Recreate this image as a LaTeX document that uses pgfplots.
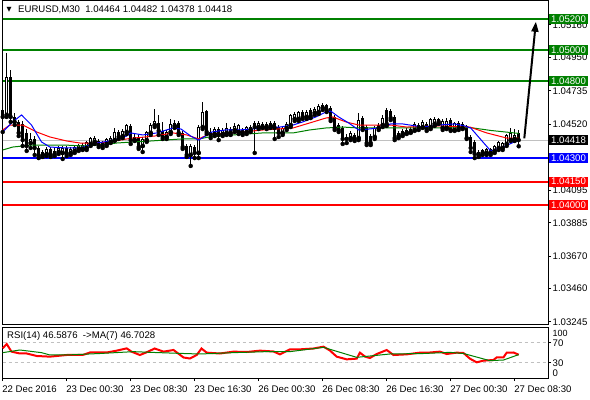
\documentclass[border=0pt]{standalone}
\usepackage{pgfplots}
\pgfplotsset{compat=1.18}
\usepackage{pgfplotstable}
\usepackage{fontspec}
\setmainfont{Liberation Sans}
\newfontfamily\symfont{DejaVu Sans}
\usetikzlibrary{arrows.meta}

\definecolor{mtgreen}{RGB}{0,128,0}
\definecolor{mtblue}{RGB}{0,0,255}
\definecolor{mtred}{RGB}{255,0,0}
\definecolor{mtgray}{RGB}{192,192,192}

% EURUSD M30 candles: index, open, high, low, close
\pgfplotstableread{
i o h l c
0 1.04612 1.04644 1.04470 1.04567
2 1.04825 1.04870 1.04535 1.04567
3 1.04567 1.04593 1.04515 1.04535
4 1.04535 1.04547 1.04444 1.04464
5 1.04522 1.04541 1.04380 1.04418
6 1.04464 1.04489 1.04348 1.04380
8 1.04425 1.04444 1.04322 1.04367
9 1.04367 1.04380 1.04302 1.04315
12 1.04361 1.04373 1.04309 1.04322
13 1.04348 1.04367 1.04315 1.04328
16 1.04367 1.04380 1.04315 1.04328
24 1.04412 1.04425 1.04373 1.04386
25 1.04399 1.04412 1.04367 1.04380
29 1.04470 1.04483 1.04425 1.04438
32 1.04509 1.04522 1.04393 1.04418
34 1.04438 1.04451 1.04361 1.04373
39 1.04528 1.04580 1.04451 1.04477
40 1.04477 1.04535 1.04425 1.04438
44 1.04528 1.04541 1.04451 1.04464
45 1.04464 1.04477 1.04361 1.04373
46 1.04380 1.04393 1.04309 1.04322
48 1.04373 1.04386 1.04302 1.04335
51 1.04605 1.04612 1.04457 1.04470
52 1.04470 1.04496 1.04431 1.04451
54 1.04489 1.04502 1.04418 1.04451
57 1.04489 1.04502 1.04451 1.04464
60 1.04483 1.04496 1.04451 1.04464
63 1.04528 1.04541 1.04335 1.04502
66 1.04522 1.04535 1.04489 1.04502
68 1.04528 1.04541 1.04425 1.04496
69 1.04502 1.04515 1.04438 1.04464
75 1.04599 1.04612 1.04554 1.04567
77 1.04612 1.04625 1.04560 1.04573
81 1.04644 1.04651 1.04599 1.04612
82 1.04625 1.04638 1.04541 1.04554
83 1.04567 1.04580 1.04483 1.04496
84 1.04515 1.04528 1.04470 1.04483
85 1.04496 1.04509 1.04393 1.04425
86 1.04438 1.04457 1.04399 1.04425
88 1.04451 1.04464 1.04412 1.04425
90 1.04560 1.04573 1.04483 1.04496
91 1.04502 1.04515 1.04386 1.04399
92 1.04444 1.04457 1.04386 1.04399
96 1.04612 1.04625 1.04509 1.04522
97 1.04605 1.04618 1.04547 1.04560
98 1.04567 1.04580 1.04418 1.04431
104 1.04515 1.04528 1.04483 1.04496
106 1.04522 1.04535 1.04477 1.04489
109 1.04554 1.04560 1.04522 1.04535
112 1.04547 1.04560 1.04477 1.04483
114 1.04528 1.04541 1.04483 1.04496
115 1.04522 1.04535 1.04489 1.04496
116 1.04509 1.04515 1.04425 1.04431
117 1.04438 1.04451 1.04341 1.04367
118 1.04406 1.04418 1.04302 1.04328
129 1.04464 1.04482 1.04378 1.04418
}\bear

\pgfplotstableread{
i o h l c
1 1.04580 1.04979 1.04567 1.04825
7 1.04399 1.04464 1.04367 1.04425
10 1.04322 1.04354 1.04309 1.04341
11 1.04328 1.04373 1.04315 1.04361
14 1.04341 1.04380 1.04328 1.04367
15 1.04335 1.04380 1.04296 1.04367
17 1.04335 1.04373 1.04322 1.04361
18 1.04348 1.04386 1.04335 1.04373
19 1.04361 1.04393 1.04348 1.04386
20 1.04361 1.04399 1.04354 1.04386
21 1.04367 1.04412 1.04354 1.04406
22 1.04393 1.04438 1.04380 1.04431
23 1.04406 1.04444 1.04393 1.04431
26 1.04393 1.04431 1.04380 1.04425
27 1.04406 1.04444 1.04399 1.04431
28 1.04418 1.04496 1.04412 1.04470
30 1.04444 1.04489 1.04431 1.04477
31 1.04470 1.04522 1.04457 1.04515
33 1.04418 1.04457 1.04412 1.04438
35 1.04380 1.04438 1.04341 1.04425
36 1.04418 1.04477 1.04406 1.04470
37 1.04464 1.04528 1.04451 1.04515
38 1.04515 1.04618 1.04502 1.04541
41 1.04438 1.04483 1.04425 1.04470
42 1.04470 1.04554 1.04457 1.04522
43 1.04509 1.04547 1.04496 1.04528
47 1.04322 1.04393 1.04251 1.04380
49 1.04335 1.04515 1.04302 1.04502
50 1.04502 1.04664 1.04489 1.04599
53 1.04457 1.04502 1.04444 1.04489
55 1.04457 1.04496 1.04444 1.04483
56 1.04464 1.04528 1.04451 1.04496
58 1.04483 1.04528 1.04470 1.04509
59 1.04470 1.04522 1.04457 1.04515
61 1.04470 1.04509 1.04457 1.04502
62 1.04483 1.04515 1.04470 1.04502
64 1.04502 1.04541 1.04489 1.04528
65 1.04502 1.04535 1.04496 1.04522
67 1.04509 1.04541 1.04496 1.04528
70 1.04464 1.04509 1.04451 1.04496
71 1.04496 1.04535 1.04483 1.04522
72 1.04515 1.04586 1.04502 1.04580
73 1.04554 1.04599 1.04541 1.04586
74 1.04554 1.04605 1.04541 1.04599
76 1.04567 1.04612 1.04554 1.04599
78 1.04593 1.04631 1.04580 1.04618
79 1.04599 1.04651 1.04586 1.04638
80 1.04625 1.04657 1.04612 1.04644
87 1.04431 1.04477 1.04418 1.04464
89 1.04431 1.04593 1.04418 1.04547
93 1.04438 1.04509 1.04425 1.04496
94 1.04496 1.04528 1.04483 1.04515
95 1.04515 1.04580 1.04502 1.04560
99 1.04444 1.04477 1.04431 1.04464
100 1.04457 1.04489 1.04444 1.04477
101 1.04464 1.04496 1.04457 1.04483
102 1.04470 1.04502 1.04464 1.04489
103 1.04483 1.04535 1.04477 1.04522
105 1.04502 1.04547 1.04496 1.04535
107 1.04502 1.04560 1.04489 1.04554
108 1.04522 1.04567 1.04509 1.04554
110 1.04496 1.04554 1.04483 1.04541
111 1.04496 1.04560 1.04489 1.04541
113 1.04483 1.04535 1.04477 1.04528
119 1.04322 1.04354 1.04309 1.04341
120 1.04335 1.04361 1.04322 1.04354
121 1.04335 1.04367 1.04322 1.04361
122 1.04335 1.04367 1.04322 1.04361
123 1.04348 1.04386 1.04335 1.04380
124 1.04367 1.04412 1.04354 1.04406
125 1.04367 1.04406 1.04354 1.04399
126 1.04393 1.04457 1.04380 1.04451
127 1.04418 1.04496 1.04412 1.04464
128 1.04425 1.04489 1.04412 1.04451
}\bull

\begin{document}
\begin{tikzpicture}[font=\fontsize{9.6bp}{11bp}\selectfont,
  lvl/.style={anchor=west, xshift=1bp, text=white, inner xsep=2bp, inner ysep=0pt, minimum height=10bp}]
\useasboundingbox (0,0) rectangle (590bp,400bp);

% price pane
\begin{axis}[
    at={(2.5bp,75bp)}, anchor=south west,
    width=545.5bp, height=324bp, scale only axis,
    xmin=-0.05, xmax=136.325,
    ymin=1.032256, ymax=1.053147,
    clip=false,
    axis line style={line width=1bp},
    xtick=\empty,
    ytick={1.03245,1.03460,1.03670,1.03885,1.04095,1.04520,1.04735,1.04950,1.05160},
    yticklabels={1.03245,1.03460,1.03670,1.03885,1.04095,1.04520,1.04735,1.04950,1.05160},
    ytick pos=right, yticklabel pos=right,
    tick align=outside, major tick length=3bp,
    tick style={black, line width=1bp},
    yticklabel style={anchor=west, inner sep=0pt, xshift=1.5bp},
    /pgf/number format/assume math mode=true,
]
% levels and bid line
\addplot[mtgreen, line width=2bp] coordinates {(-0.05,1.05200) (136.325,1.05200)};
\addplot[mtgreen, line width=2bp] coordinates {(-0.05,1.05000) (136.325,1.05000)};
\addplot[mtgreen, line width=2bp] coordinates {(-0.05,1.04800) (136.325,1.04800)};
\addplot[mtblue, line width=2bp] coordinates {(-0.05,1.04300) (136.325,1.04300)};
\addplot[mtred, line width=2bp] coordinates {(-0.05,1.04150) (136.325,1.04150)};
\addplot[mtred, line width=2bp] coordinates {(-0.05,1.04000) (136.325,1.04000)};
\addplot[mtgray, line width=1bp] coordinates {(-0.05,1.04418) (136.325,1.04418)};

% wicks
\addplot[only marks, mark=none, error bars/.cd, y dir=plus, y explicit, error mark=none,
  error bar style={black, line width=1bp}]
  table[x=i, y=l, y error plus expr=\thisrow{h}-\thisrow{l}] {\bear};
\addplot[only marks, mark=none, error bars/.cd, y dir=plus, y explicit, error mark=none,
  error bar style={black, line width=1bp}]
  table[x=i, y=l, y error plus expr=\thisrow{h}-\thisrow{l}] {\bull};
% bodies
\addplot[only marks, mark=none, error bars/.cd, y dir=plus, y explicit, error mark=none,
  error bar style={black, line width=3bp}]
  table[x=i, y=c, y error plus expr=\thisrow{o}-\thisrow{c}] {\bear};
\addplot[only marks, mark=none, error bars/.cd, y dir=plus, y explicit, error mark=none,
  error bar style={black, line width=3bp}]
  table[x=i, y=o, y error plus expr=\thisrow{c}-\thisrow{o}] {\bull};
\addplot[only marks, mark=none, error bars/.cd, y dir=plus, y explicit, error mark=none,
  error bar style={white, line width=1bp, shorten <=1bp, shorten >=1bp}]
  table[x=i, y=o, y error plus expr=\thisrow{c}-\thisrow{o}] {\bull};

% moving averages
\addplot[mtgreen, line width=1bp] coordinates {
(0,1.04354) (2.5,1.04373) (7.2,1.04386) (15.5,1.04386) (20,1.04380) (24.3,1.04386)
(28.5,1.04399) (32.7,1.04406) (37,1.04412) (44.6,1.04425) (49,1.04425) (51.6,1.04438)
(57.6,1.04451) (65,1.04464) (72.6,1.04464) (76.7,1.04483) (80.8,1.04496) (84.9,1.04502)
(89,1.04496) (97,1.04496) (105,1.04496) (113,1.04496) (116.8,1.04499) (122,1.04480) (129,1.04461)};
\addplot[mtred, line width=1bp] coordinates {
(0,1.04483) (1.8,1.04515) (5,1.04515) (8.5,1.04470) (11.8,1.04438) (16,1.04412)
(19.3,1.04399) (22.6,1.04399) (26.8,1.04406) (31,1.04425) (32.7,1.04431) (38,1.04444)
(42.6,1.04464) (46,1.04451) (49,1.04425) (51.6,1.04457) (57.6,1.04464) (65,1.04483)
(72.6,1.04496) (76.7,1.04528) (80.8,1.04560) (82.5,1.04567) (85.8,1.04535) (89,1.04515)
(94,1.04515) (97,1.04515) (101,1.04502) (109,1.04509) (116.8,1.04502) (121,1.04464)
(126,1.04431) (129,1.04431)};
\addplot[mtblue, line width=1bp] coordinates {
(0,1.04470) (2.5,1.04535) (4.7,1.04580) (7.2,1.04515) (9.7,1.04406) (11.8,1.04373)
(16,1.04367) (19,1.04367) (20.2,1.04373) (23.5,1.04399) (25.3,1.04406) (27.7,1.04418)
(31,1.04444) (32,1.04464) (35,1.04451) (38.5,1.04464) (42.6,1.04496) (44.6,1.04489)
(47,1.04444) (49,1.04418) (50.3,1.04438) (52.3,1.04470) (55.6,1.04483) (59,1.04483)
(62,1.04489) (65,1.04496) (69.3,1.04502) (72.6,1.04515) (75,1.04535) (78.3,1.04567)
(80.8,1.04599) (82,1.04605) (84,1.04567) (86.5,1.04528) (89,1.04483) (91.5,1.04489)
(94,1.04496) (97,1.04522) (100,1.04522) (105,1.04502) (109,1.04515) (113,1.04522)
(115.5,1.04509) (117,1.04496) (122,1.04348) (125,1.04373) (129,1.04418)};

% forecast arrow
\addplot[black, line width=2bp, -{Triangle[length=10bp,width=7bp]}]
  coordinates {(130.4,1.04429) (133.3,1.05181)};

% price boxes
\node[lvl, fill=mtgreen] at (axis cs:136.325,1.05200) {1.05200};
\node[lvl, fill=mtgreen] at (axis cs:136.325,1.05000) {1.05000};
\node[lvl, fill=mtgreen] at (axis cs:136.325,1.04800) {1.04800};
\node[lvl, fill=black] at (axis cs:136.325,1.04418) {1.04418};
\node[lvl, fill=mtblue] at (axis cs:136.325,1.04300) {1.04300};
\node[lvl, fill=mtred] at (axis cs:136.325,1.04150) {1.04150};
\node[lvl, fill=mtred] at (axis cs:136.325,1.04000) {1.04000};

% title
\node[anchor=west, inner sep=0pt, font=\symfont\fontsize{6.5bp}{7bp}\selectfont]
  at (rel axis cs:0,1) [xshift=4bp, yshift=-9bp] {▼};
\node[anchor=west, inner sep=0pt] at (rel axis cs:0,1) [xshift=15.5bp, yshift=-9bp]
  {EURUSD,M30\ \ 1.04464 1.04482 1.04378 1.04418};
\end{axis}

% RSI pane
\begin{axis}[
    at={(2.5bp,22bp)}, anchor=south west,
    width=545.5bp, height=50bp, scale only axis,
    xmin=-0.05, xmax=136.325,
    ymin=0, ymax=100,
    clip=false,
    axis line style={line width=1bp},
    xtick={0,16,32,48,64,80,96,112,128},
    xticklabels={22 Dec 2016,23 Dec 00:30,23 Dec 08:30,23 Dec 16:30,26 Dec 00:30,26 Dec 08:30,26 Dec 16:30,27 Dec 00:30,27 Dec 08:30},
    xtick pos=bottom,
    ytick={30,70}, yticklabels={30,70},
    ytick pos=right, yticklabel pos=right,
    tick align=outside, major tick length=3bp,
    tick style={black, line width=1bp},
    yticklabel style={anchor=west, inner sep=0pt, xshift=1.5bp},
    xticklabel style={anchor=north west, inner sep=0pt, xshift=-0.5bp, yshift=-4.5bp},
    /pgf/number format/assume math mode=true,
]
\addplot[mtgray, line width=1bp, dash pattern=on 3bp off 3bp] coordinates {(-0.05,70) (136.325,70)};
\addplot[mtgray, line width=1bp, dash pattern=on 3bp off 3bp] coordinates {(-0.05,30) (136.325,30)};
\addplot[mtred, line width=2bp] coordinates {
(0,59.4) (1,68) (2.2,52.7) (4.3,49) (6,49) (8.5,44) (11.8,42.7) (16,46) (20.2,46.5)
(21.8,51) (26,51) (28.5,54.7) (31,59.3) (32.2,52.7) (34.3,46) (36,51.5) (38,59)
(40.2,52.7) (42.7,56) (45.2,41) (46.8,39) (48.5,46) (49.7,59) (51,50.7) (54.3,49)
(57.7,52.7) (61,52) (64.3,54.7) (67.7,53) (69.3,47.3) (71.8,57.3) (74.3,57.3) (77.7,59)
(80.2,62.7) (81.8,55) (83.5,42.7) (86,37.3) (88.5,38.7) (89.3,50.7) (90.6,42.7) (91.8,40)
(93.5,48) (96,56) (97.7,46) (101,47.3) (104.3,50.7) (106.8,51) (109.3,52.7) (111,48)
(113.5,50.7) (115.2,50) (116.8,38.7) (118.5,31.3) (120.2,34.7) (122.7,36) (123.5,41.3)
(125.2,41.3) (126,50.7) (127.7,51) (129,46.59)};
\addplot[mtgreen, line width=1bp] coordinates {
(0,50.7) (4.3,56) (9.7,50.7) (11.8,46) (16,46) (24.3,49) (32.7,52.7) (37,51.3) (45.2,49)
(49.3,48) (57.7,50.7) (66,52.7) (71.8,52.7) (80.2,61.3) (88.5,41.3) (96.8,48) (105.2,49)
(111.8,51.3) (115.2,49) (121.8,34.7) (125.2,36) (129,46.7)};
\node[anchor=west, inner sep=0pt] at (rel axis cs:0,1) [xshift=4.5bp, yshift=-8bp]
  {RSI(14) 46.5876\ \ ->MA(7) 46.7028};
\node[anchor=west, inner sep=0pt, font=\fontsize{9bp}{10bp}\selectfont] at (rel axis cs:1,1) [xshift=4.5bp, yshift=-5bp] {100};
\node[anchor=west, inner sep=0pt] at (rel axis cs:1,0) [xshift=4.5bp, yshift=5bp] {0};
\end{axis}
\end{tikzpicture}
\end{document}
